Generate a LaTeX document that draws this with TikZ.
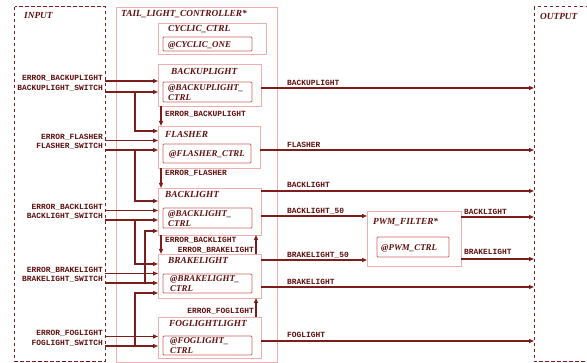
\documentclass[tikz,border=0pt]{standalone}
\usepackage{fontspec}
\usetikzlibrary{arrows.meta,calc}
\newfontfamily\ttlf{Liberation Serif}
\newfontfamily\sigf{Liberation Mono}
\definecolor{wirec}{RGB}{125,30,30}
\definecolor{boxpink}{RGB}{240,175,175}
\definecolor{innerred}{RGB}{205,100,100}
\definecolor{txtc}{RGB}{95,15,15}
\tikzset{
  obox/.style={draw=boxpink, line width=0.9pt, inner sep=0pt, outer sep=0pt, anchor=north west},
  ibox/.style={draw=innerred, line width=0.9pt, rounded corners=1pt, inner sep=0pt, outer sep=0pt, anchor=north west},
  frame/.style={draw=wirec, line width=1pt, dash pattern=on 3.5pt off 2.5pt},
  ttl/.style={font=\ttlf\bfseries\itshape\fontsize{9.3}{9.5}\selectfont, text=txtc, inner sep=0pt, anchor=base west, align=left},
  itx/.style={ttl, font=\ttlf\bfseries\itshape\fontsize{8.9}{9.5}\selectfont},
  itx2/.style={itx, anchor=west},
  sig/.style={font=\sigf\bfseries\fontsize{7.9}{8.5}\selectfont, text=txtc, inner sep=0pt},
  wire/.style={draw=wirec, line width=1.1pt},
  arr/.style={wire, -{Triangle[length=5pt,width=4pt]}},
}
\begin{document}
\begin{tikzpicture}[x=1pt,y=-1pt]
\useasboundingbox (0,0) rectangle (587,363);
% frames
\draw[frame] (14.5,7) rectangle (105,361.5);
\draw[frame] (534,7) rectangle (587.5,362);
\coordinate (inR) at (105,7);
\coordinate (outL) at (534,7);
\node[ttl] (tin) at (24,19) {INPUT};
\node[ttl] (tout) at (540,20) {OUTPUT};
% controller
\node[obox, minimum width=161pt, minimum height=355pt] (ctrl) at (116,7) {};
\node[ttl] (tctrl) at (121,17) {TAIL\_LIGHT\_CONTROLLER*};
% boxes
\node[obox, minimum width=108pt, minimum height=31pt] (cyc) at (158,23) {};
\node[ibox, minimum width=89pt, minimum height=14pt] (cyci) at (163,37) {};
\node[ttl] (tcyc) at (168,32) {CYCLIC\_CTRL};
\node[itx] (tcyci) at (168,47.5) {@CYCLIC\_ONE};

\node[obox, minimum width=103pt, minimum height=42pt] (bu) at (158,64) {};
\node[ibox, minimum width=89pt, minimum height=20pt] (bui) at (163,82) {};
\node[ttl] (tbu) at (171,75) {BACKUPLIGHT};
\node[itx2] (tbui) at (168,92.5) {@BACKUPLIGHT\_\\CTRL};

\node[obox, minimum width=102pt, minimum height=42pt] (fl) at (158,126) {};
\node[ibox, minimum width=88pt, minimum height=19pt] (fli) at (163,144) {};
\node[ttl] (tfl) at (165,138) {FLASHER};
\node[itx] (tfli) at (169,156.5) {@FLASHER\_CTRL};

\node[obox, minimum width=103pt, minimum height=47pt] (bl) at (158,188) {};
\node[ibox, minimum width=89pt, minimum height=20pt] (bli) at (163,208) {};
\node[ttl] (tbl) at (165,198) {BACKLIGHT};
\node[itx2] (tbli) at (168,218.5) {@BACKLIGHT\_\\CTRL};

\node[obox, minimum width=103pt, minimum height=44pt] (br) at (158,254) {};
\node[ibox, minimum width=89pt, minimum height=19pt] (bri) at (163,274) {};
\node[ttl] (tbr) at (168,264) {BRAKELIGHT};
\node[itx2] (tbri) at (170,283.5) {@BRAKELIGHT\_\\CTRL};

\node[obox, minimum width=103pt, minimum height=41pt] (fo) at (158,317) {};
\node[ibox, minimum width=89pt, minimum height=19pt] (foi) at (163,336) {};
\node[ttl] (tfo) at (169,327) {FOGLIGHTLIGHT};
\node[itx2] (tfoi) at (170,345.5) {@FOGLIGHT\_\\CTRL};

\node[obox, minimum width=94pt, minimum height=55pt] (pwm) at (367,211) {};
\node[ibox, minimum width=72pt, minimum height=20pt] (pwmi) at (377,237) {};
\node[ttl] (tpwm) at (373,225) {PWM\_FILTER*};
\node[itx] (tpwmi) at (381,250.5) {@PWM\_CTRL};

% input labels
\node[sig, anchor=base east] (lEBU) at (103,80.5) {ERROR\_BACKUPLIGHT};
\node[sig, anchor=base east] (lBUS) at (103,90.5) {BACKUPLIGHT\_SWITCH};
\node[sig, anchor=base east] (lEFL) at (103,139.5) {ERROR\_FLASHER};
\node[sig, anchor=base east] (lFLS) at (103,149) {FLASHER\_SWITCH};
\node[sig, anchor=base east] (lEBL) at (103,209.5) {ERROR\_BACKLIGHT};
\node[sig, anchor=base east] (lBLS) at (103,219) {BACKLIGHT\_SWITCH};
\node[sig, anchor=base east] (lEBR) at (103,272.5) {ERROR\_BRAKELIGHT};
\node[sig, anchor=base east] (lBRS) at (103,282) {BRAKELIGHT\_SWITCH};
\node[sig, anchor=base east] (lEFO) at (103,335.5) {ERROR\_FOGLIGHT};
\node[sig, anchor=base east] (lFOS) at (103,345.5) {FOGLIGHT\_SWITCH};

% input wire starts
\coordinate (pEBU) at (105,81);
\coordinate (pBUS) at (105,92);
\coordinate (pEFL) at (105,140.5);
\coordinate (pFLS) at (105,150);
\coordinate (pEBL) at (105,210.5);
\coordinate (pBLS) at (105,220);
\coordinate (pEBR) at (105,273.5);
\coordinate (pBRS) at (105,283);
\coordinate (pEFO) at (105,336.5);
\coordinate (pFOS) at (105,346);
\foreach \p/\b in {EBU/bu,BUS/bu,EFL/fl,FLS/fl,EBL/bl,BLS/bl,EBR/br,BRS/br,EFO/fo,FOS/fo}
  \draw[arr] (p\p) -- (p\p -| \b.west);

% branches
\coordinate (jBUS) at (135,92);
\coordinate (jFLS) at (135,150);
\coordinate (jBLS) at (135,220);
\coordinate (jBRS) at (145,283);
\coordinate (jFOS) at (135,346);
\draw[arr] (jBUS) |- ([yshift=-5pt]fl.north west);
\draw[arr] (jFLS) |- ([yshift=-13pt]bl.north west);
\draw[arr] (jBLS) |- ([yshift=-10pt]br.north west);
\draw[arr] (jBRS) |- ([yshift=4pt]bl.south west);
\draw[arr] (jFOS) |- ([yshift=5pt]br.south west);

% internal error wires
\draw[arr] ([xshift=3pt]bu.south west) -- ([xshift=3pt]fl.north west);
\draw[arr] ([xshift=3pt]fl.south west) -- ([xshift=3pt]bl.north west);
\draw[arr] ([xshift=3pt]bl.south west) -- ([xshift=3pt]br.north west);
\draw[arr] ([xshift=-5pt]br.north east) -- ([xshift=-5pt]bl.south east);
\draw[arr] ([xshift=-5pt]fo.north east) -- ([xshift=-5pt]br.south east);
\node[sig, anchor=base west] (lie1) at (165,116.5) {ERROR\_BACKUPLIGHT};
\node[sig, anchor=base west] (lie2) at (165,175.5) {ERROR\_FLASHER};
\node[sig, anchor=base west] (lie3) at (165,242.5) {ERROR\_BACKLIGHT};
\node[sig, anchor=base east] (lie4) at (254,252.5) {ERROR\_BRAKELIGHT};
\node[sig, anchor=base east] (lie5) at (254,313.5) {ERROR\_FOGLIGHT};

% outputs
\coordinate (oBU) at (261,88);
\coordinate (oFL) at (260,150);
\coordinate (oBL) at (261,191);
\coordinate (oBL5) at (261,216);
\coordinate (oBR5) at (261,260);
\coordinate (oBR) at (261,287);
\coordinate (oFO) at (261,341);
\coordinate (oPBL) at (461,217);
\coordinate (oPBR) at (461,259);
\foreach \c in {BU,FL,BL,BR,FO,PBL,PBR}
  \draw[arr] (o\c) -- (o\c -| outL);
\draw[arr] (oBL5) -- (oBL5 -| pwm.west);
\draw[arr] (oBR5) -- (oBR5 -| pwm.west);
\node[sig, anchor=base west] (loBU) at (287,85.5) {BACKUPLIGHT};
\node[sig, anchor=base west] (loFL) at (287,147.5) {FLASHER};
\node[sig, anchor=base west] (loBL) at (287,187.5) {BACKLIGHT};
\node[sig, anchor=base west] (loBL5) at (287,213.5) {BACKLIGHT\_50};
\node[sig, anchor=base west] (loBR5) at (287,257.5) {BRAKELIGHT\_50};
\node[sig, anchor=base west] (loBR) at (287,284.5) {BRAKELIGHT};
\node[sig, anchor=base west] (loFO) at (287,337.5) {FOGLIGHT};
\node[sig, anchor=base west] (loPBL) at (464,214.5) {BACKLIGHT};
\node[sig, anchor=base west] (loPBR) at (464,254.5) {BRAKELIGHT};
\end{tikzpicture}
\end{document}
